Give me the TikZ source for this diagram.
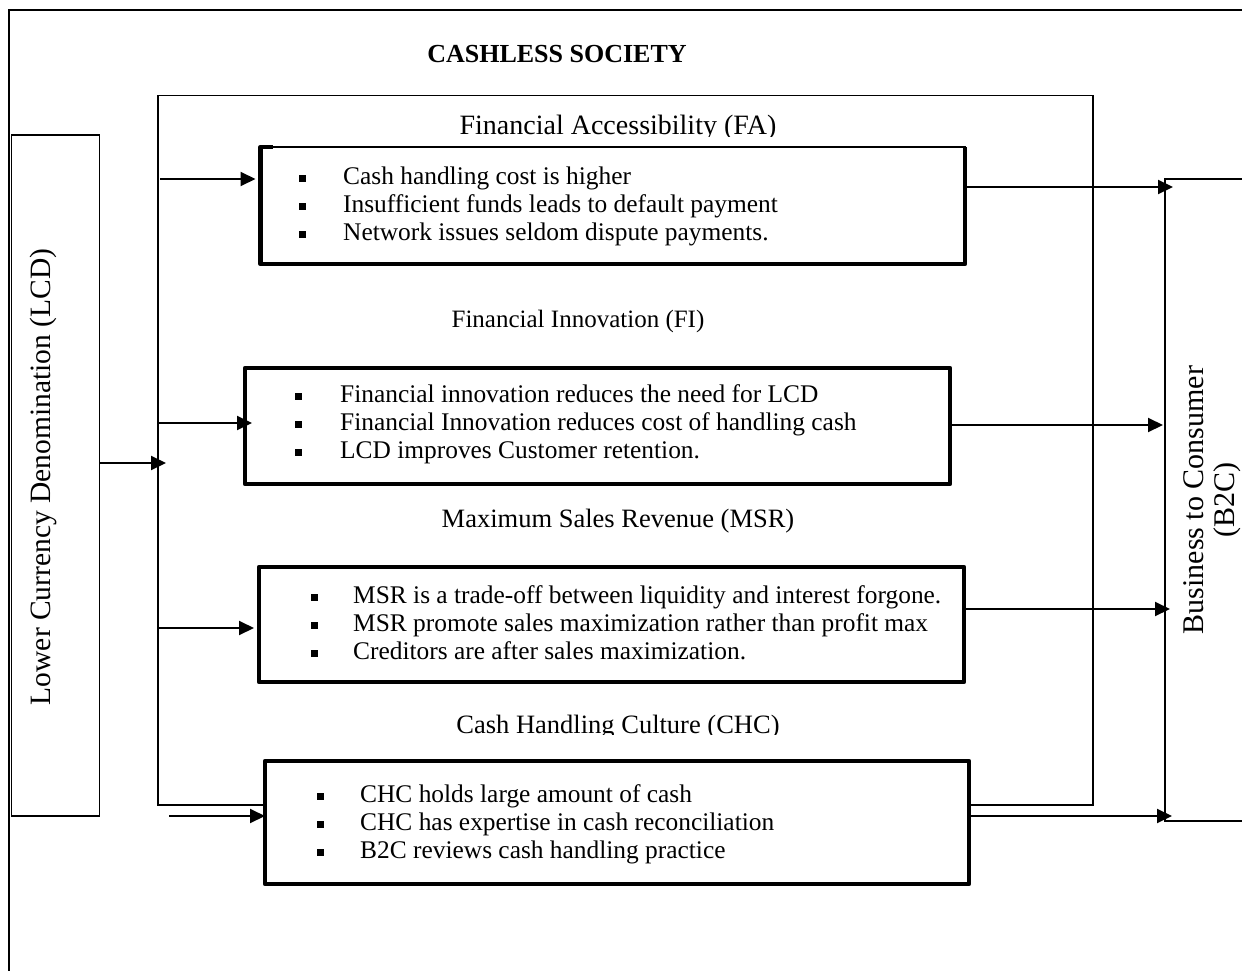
\documentclass[tikz,border=0pt]{standalone}
\usepackage{fontspec}
\setmainfont{Liberation Serif}
\usetikzlibrary{arrows.meta}
\newcommand\sqb[1]{\makebox[#1][l]{\rule[2.6pt]{7pt}{7pt}}}
\begin{document}
\begin{tikzpicture}[x=1pt,y=-1pt,
  frame/.style={draw=black, line width=1.5pt, rectangle, inner sep=0pt, outer sep=0pt},
  boxthick/.style={draw=black, line width=4.5pt, fill=white, rectangle, inner sep=0pt, outer sep=0pt, line join=round},
  arr/.style={line width=2pt, -{Triangle[length=15pt,width=14pt]}},
  items/.style={inner sep=0pt, anchor=west, font=\fontsize{25.4}{27.8}\selectfont},
  ttl/.style={inner sep=0pt, anchor=base}
]
\useasboundingbox (0,0) rectangle (1242,971);
\clip (0,0) rectangle (1242,971);
\fill[white] (0,0) rectangle (1242,971);

% outer frame (only top and left edges visible)
\node[frame, line width=2pt, minimum width=1291pt, minimum height=989pt] (outer) at (654.5,505) {};
\node[inner sep=0pt, font=\fontsize{26}{30}\selectfont\bfseries] (title) at (557,54) {CASHLESS SOCIETY};

% inner frame
\node[frame, minimum width=935pt, minimum height=709.5pt] (inner) at (625.5,450.25) {};

% side boxes
\node[frame, minimum width=87.8pt, minimum height=681pt] (lcd) at (55.6,475.5) {};
\node[rotate=90, inner sep=0pt, font=\fontsize{29.5}{34}\selectfont] (lcdlabel) at (43,477) {Lower Currency Denomination (LCD)};
\node[frame, minimum width=96pt, minimum height=642pt, font=\fontsize{30}{31}\selectfont] (b2c) at (1213,500)
  {\rotatebox{90}{\begin{tabular}{@{}c@{}}Business to Consumer\\(B2C)\end{tabular}}};

% boxes
\node[frame, fill=white, minimum width=704.5pt, minimum height=117pt] (fa) at (612.75,205.5) {};
\draw[line width=4.5pt, line join=round] ([xshift=12pt]fa.north west) -- (fa.north west) -- (fa.south west) -- (fa.south east) -- (fa.north east);
\node[boxthick, minimum width=705pt, minimum height=116pt] (fi) at (597.5,426) {};
\node[boxthick, minimum width=705pt, minimum height=115pt] (msr) at (611.5,624.5) {};
\node[boxthick, minimum width=704pt, minimum height=123pt] (chc) at (617,822.5) {};

% titles
\begin{scope}
\clip (300,90) rectangle (900,136.5);
\node[ttl, font=\fontsize{28}{32}\selectfont] (fat) at (618,135) {Financial Accessibility (FA)};
\end{scope}
\node[ttl, font=\fontsize{25}{30}\selectfont] (fit) at (578,327) {Financial Innovation (FI)};
\node[ttl, font=\fontsize{26.5}{30}\selectfont] (msrt) at (618,527) {Maximum Sales Revenue (MSR)};
\begin{scope}
\clip (300,690) rectangle (900,734.5);
\node[ttl, font=\fontsize{26.5}{30}\selectfont] (chct) at (618,733) {Cash Handling Culture (CHC)};
\end{scope}

% bullet lists
\node[items] (fal) at (299,207) {\begin{tabular}{@{}l@{}}
\sqb{44pt}Cash handling cost is higher\\
\sqb{44pt}Insufficient funds leads to default payment\\
\sqb{44pt}Network issues seldom dispute payments.\end{tabular}};
\node[items] (fil) at (295,425) {\begin{tabular}{@{}l@{}}
\sqb{45pt}Financial innovation reduces the need for LCD\\
\sqb{45pt}Financial Innovation reduces cost of handling cash\\
\sqb{45pt}LCD improves Customer retention.\end{tabular}};
\node[items] (msrl) at (311,626) {\begin{tabular}{@{}l@{}}
\sqb{42pt}MSR is a trade-off between liquidity and interest forgone.\\
\sqb{42pt}MSR promote sales maximization rather than profit max\\
\sqb{42pt}Creditors are after sales maximization.\end{tabular}};
\node[items] (chcl) at (317,825) {\begin{tabular}{@{}l@{}}
\sqb{43pt}CHC holds large amount of cash\\
\sqb{43pt}CHC has expertise in cash reconciliation\\
\sqb{43pt}B2C reviews cash handling practice\end{tabular}};

% connector free ends / levels
\coordinate (lcdin) at (0,463);
\coordinate (fain) at (160,179);
\coordinate (fiin) at (158,423);
\coordinate (msrin) at (158,628);
\coordinate (chcin) at (169,816);
\coordinate (faout) at (0,187);
\coordinate (fiout) at (0,425);
\coordinate (msrout) at (0,609);
\coordinate (chcout) at (0,816);

% arrows
\draw[arr, shorten >=-8pt] (lcd.east |- lcdin) -- (inner.west |- lcdin);
\draw[arr, shorten >=5pt] (fain) -- (fa.west |- fain);
\draw[arr, shorten >=-7pt] (fiin) -- (fi.west |- fiin);
\draw[arr, shorten >=5pt] (msrin) -- (msr.west |- msrin);
\draw[arr] (chcin) -- (chc.west |- chcin);
\draw[arr, shorten >=-8pt] (fa.east |- faout) -- (b2c.west |- faout);
\draw[arr, shorten >=2pt] (fi.east |- fiout) -- (b2c.west |- fiout);
\draw[arr, shorten >=-5pt] (msr.east |- msrout) -- (b2c.west |- msrout);
\draw[arr, shorten >=-7pt] (chc.east |- chcout) -- (b2c.west |- chcout);
\end{tikzpicture}
\end{document}
